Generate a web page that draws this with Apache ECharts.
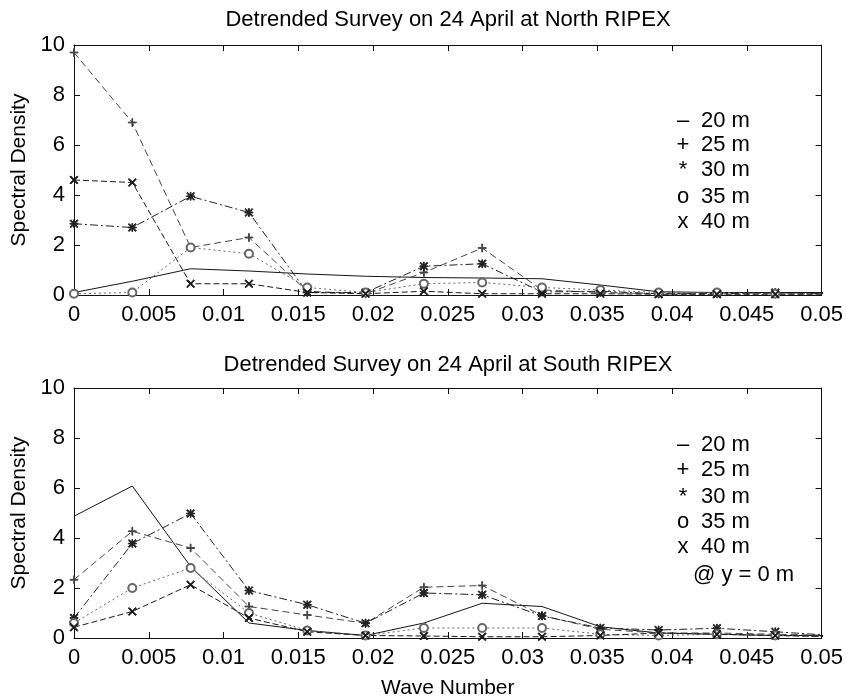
<!DOCTYPE html>
<html>
<head>
<meta charset="utf-8">
<script src="https://cdn.jsdelivr.net/npm/echarts@6/dist/echarts.min.js"></script>
<style>
html,body{margin:0;padding:0;background:#fff;}
#chart{width:846px;height:700px;}
</style>
</head>
<body>
<div id="chart"></div>
<script>
// ---- data ----
const waveNumber = [0, 0.0039, 0.0078, 0.0117, 0.0156, 0.0195, 0.0234, 0.0273, 0.0313, 0.0352, 0.0391, 0.0430, 0.0469, 0.0508];
const xTickLabels = ['0', '0.005', '0.01', '0.015', '0.02', '0.025', '0.03', '0.035', '0.04', '0.045', '0.05'];
const yTickLabels = ['0', '2', '4', '6', '8', '10'];
const depthNames = ['20 m', '25 m', '30 m', '35 m', '40 m'];
const legendMarks = ['\u2013', '+', '*', 'o', 'x'];

// North RIPEX
const north20 = [0.10, 0.55, 1.05, 0.96, 0.84, 0.75, 0.70, 0.68, 0.65, 0.40, 0.13, 0.10, 0.10, 0.10];
const north25 = [9.70, 6.90, 1.90, 2.30, 0.15, 0.05, 0.90, 1.88, 0.20, 0.10, 0.05, 0.05, 0.05, 0.05];
const north30 = [2.85, 2.70, 3.95, 3.30, 0.10, 0.10, 1.15, 1.25, 0.12, 0.15, 0.05, 0.05, 0.10, 0.05];
const north35 = [0.05, 0.10, 1.90, 1.65, 0.30, 0.10, 0.45, 0.50, 0.30, 0.20, 0.10, 0.10, 0.05, 0.05];
const north40 = [4.60, 4.50, 0.45, 0.45, 0.10, 0.05, 0.15, 0.05, 0.05, 0.05, 0.03, 0.03, 0.03, 0.03];

// South RIPEX
const south20 = [4.87, 6.08, 2.86, 0.60, 0.30, 0.10, 0.60, 1.39, 1.26, 0.45, 0.20, 0.15, 0.10, 0.10];
const south25 = [2.33, 4.27, 3.60, 1.26, 0.92, 0.59, 2.03, 2.10, 0.90, 0.35, 0.20, 0.20, 0.15, 0.10];
const south30 = [0.80, 3.78, 4.98, 1.90, 1.33, 0.59, 1.80, 1.73, 0.88, 0.40, 0.32, 0.39, 0.25, 0.10];
const south35 = [0.60, 2.00, 2.80, 1.00, 0.30, 0.10, 0.40, 0.40, 0.40, 0.15, 0.10, 0.15, 0.10, 0.05];
const south40 = [0.43, 1.06, 2.13, 0.80, 0.25, 0.10, 0.08, 0.05, 0.05, 0.10, 0.20, 0.15, 0.10, 0.05];

const northTitle = 'Detrended Survey on 24 April at North RIPEX';
const southTitle = 'Detrended Survey on 24 April at South RIPEX';
const yName = 'Spectral Density';
const xName = 'Wave Number';
const southNote = '@ y = 0 m';

// ---- styles ----
const FONT = '"Liberation Sans", Arial, Helvetica, sans-serif';
const X_SYM = 'path://M0,1L1,0L10,9L9,10Z M9,0L10,1L1,10L0,9Z';
const PLUS_SYM = 'path://M4.5,0H5.5V4.5H10V5.5H5.5V10H4.5V5.5H0V4.5H4.5Z';
const STAR_SYM = 'path://M4.5,0H5.5V4.5H10V5.5H5.5V10H4.5V5.5H0V4.5H4.5Z M0,1L1,0L10,9L9,10Z M9,0L10,1L1,10L0,9Z';

const styles = [
  {type: 'solid', color: '#151515', symbol: 'none'},
  {type: [7, 4], color: '#444', symbol: PLUS_SYM},
  {type: [8, 3, 2, 3], color: '#222', symbol: STAR_SYM},
  {type: [2, 3], color: '#666', symbol: 'emptyCircle'},
  {type: [6, 3], color: '#1a1a1a', symbol: X_SYM}
];

const grids = [
  {left: 74, top: 45, width: 749, height: 250},
  {left: 74, top: 388, width: 749, height: 250}
];

function xAxes(gi) {
  const common = {
    type: 'value', gridIndex: gi, min: 0, max: 0.05, interval: 0.005,
    axisLine: {show: true, onZero: false, lineStyle: {color: '#111', width: 1}},
    axisTick: {show: true, inside: true, length: 6, lineStyle: {color: '#111'}},
    splitLine: {show: false}
  };
  return [
    Object.assign({}, common, {
      position: 'bottom',
      axisLabel: {show: true, color: '#000', fontFamily: FONT, fontSize: 22, margin: 9,
        formatter: v => xTickLabels[Math.round(v / 0.005)]}
    }, gi === 1 ? {name: xName, nameLocation: 'middle', nameGap: 40,
      nameTextStyle: {color: '#000', fontFamily: FONT, fontSize: 21}} : {}),
    Object.assign({}, common, {position: 'top', axisLabel: {show: false}})
  ];
}
function yAxes(gi) {
  const common = {
    type: 'value', gridIndex: gi, min: 0, max: 10, interval: 2,
    axisLine: {show: true, onZero: false, lineStyle: {color: '#111', width: 1}},
    axisTick: {show: true, inside: true, length: 6, lineStyle: {color: '#111'}},
    splitLine: {show: false}
  };
  return [
    Object.assign({}, common, {
      position: 'left', name: yName, nameLocation: 'middle', nameGap: 44,
      nameTextStyle: {color: '#000', fontFamily: FONT, fontSize: 21},
      axisLabel: {show: true, color: '#000', fontFamily: FONT, fontSize: 22, margin: 9,
        formatter: v => yTickLabels[Math.round(v / 2)]}
    }),
    Object.assign({}, common, {position: 'right', axisLabel: {show: false}})
  ];
}

function makeSeries(gi, arrays) {
  return arrays.map((vals, i) => ({
    type: 'line', name: depthNames[i] + '_' + gi,
    xAxisIndex: gi * 2, yAxisIndex: gi * 2,
    data: waveNumber.map((x, k) => [x, vals[k]]),
    symbol: styles[i].symbol, symbolSize: 8, showSymbol: styles[i].symbol !== 'none',
    lineStyle: {color: styles[i].color, width: 1, type: styles[i].type},
    itemStyle: {color: styles[i].color, borderColor: styles[i].color, borderWidth: 1},
    clip: true, animation: false, silent: true
  }));
}

const graphics = [];
function addText(x, y, text, size, align) {
  graphics.push({type: 'text', x: x, y: y,
    style: {text: text, fill: '#000', font: size + 'px ' + FONT, textAlign: align || 'left', textVerticalAlign: 'middle'}});
}
addText(448, 20, northTitle, 22, 'center');
addText(448, 365, southTitle, 22, 'center');
const topLegendY = [121, 145, 170, 197, 222];
const botLegendY = [445, 470, 497, 522, 547];
for (let i = 0; i < 5; i++) {
  addText(683, topLegendY[i], legendMarks[i], 22, 'center');
  addText(701, topLegendY[i], depthNames[i], 22, 'left');
  addText(683, botLegendY[i], legendMarks[i], 22, 'center');
  addText(701, botLegendY[i], depthNames[i], 22, 'left');
}
addText(693, 575, southNote, 22, 'left');

const option = {
  backgroundColor: '#fff',
  animation: false,
  grid: grids,
  xAxis: xAxes(0).concat(xAxes(1)),
  yAxis: yAxes(0).concat(yAxes(1)),
  series: makeSeries(0, [north20, north25, north30, north35, north40])
    .concat(makeSeries(1, [south20, south25, south30, south35, south40])),
  graphic: graphics
};
const chart = echarts.init(document.getElementById('chart'), null, {renderer: 'canvas'});
chart.setOption(option);
</script>
</body>
</html>
